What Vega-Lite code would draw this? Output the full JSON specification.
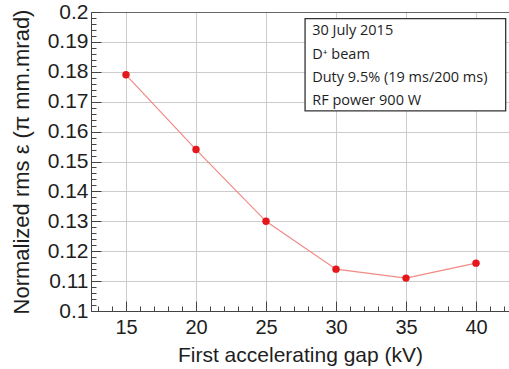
{
  "$schema": "https://vega.github.io/schema/vega-lite/v6.json",
  "width": 418,
  "height": 299,
  "autosize": {"type": "none"},
  "padding": {"left": 91, "top": 12, "right": 0, "bottom": 58},
  "background": "white",
  "config": {
    "view": {"stroke": null},
    "axis": {"labelFont": "Liberation Sans", "titleFont": "Liberation Sans", "labelColor": "#1e1e1e", "titleColor": "#1e1e1e", "titleFontWeight": "normal"}
  },
  "datasets": {
    "pts": [
      {"gap": 15, "emit": 0.179},
      {"gap": 20, "emit": 0.154},
      {"gap": 25, "emit": 0.130},
      {"gap": 30, "emit": 0.114},
      {"gap": 35, "emit": 0.111},
      {"gap": 40, "emit": 0.116}
    ],
    "box": [{"x1": 27.79, "x2": 42.12, "y1": 0.1669, "y2": 0.1978}],
    "notes": [
      {"tx": 28.3, "ty": 0.1935, "label": "30 July 2015"},
      {"tx": 28.3, "ty": 0.1857, "label": "D⁺ beam"},
      {"tx": 28.3, "ty": 0.1780, "label": "Duty 9.5% (19 ms/200 ms)"},
      {"tx": 28.3, "ty": 0.1703, "label": "RF power 900 W"}
    ]
  },
  "resolve": {"axis": {"x": "independent", "y": "independent"}},
  "layer": [
    {
      "data": {"name": "pts"},
      "mark": {"type": "line", "color": "#f08a86", "strokeWidth": 1.2},
      "encoding": {
        "x": {"field": "gap", "type": "quantitative", "scale": {"domain": [12.5, 42.357], "nice": false, "zero": false},
          "axis": {"orient": "bottom", "title": "First accelerating gap (kV)", "values": [15, 20, 25, 30, 35, 40], "labelFontSize": 20, "titleFontSize": 21, "tickSize": -10, "tickColor": "#444444", "domainColor": "#444444", "grid": true, "gridColor": "#cccccc", "labelPadding": 16, "titlePadding": 7}},
        "y": {"field": "emit", "type": "quantitative", "scale": {"domain": [0.1, 0.2], "nice": false, "zero": false},
          "axis": {"orient": "left", "title": "Normalized rms ε (π mm.mrad)", "values": [0.1, 0.11, 0.12, 0.13, 0.14, 0.15, 0.16, 0.17, 0.18, 0.19, 0.2], "labelFontSize": 21, "titleFontSize": 22, "tickSize": -10, "tickColor": "#444444", "domainColor": "#444444", "grid": true, "gridColor": "#cccccc", "labelPadding": 13, "titlePadding": 14, "labelExpr": "datum.value == 0.1 ? '0.1' : datum.value == 0.2 ? '0.2' : format(datum.value, '.2f')"}}
      }
    },
    {
      "data": {"name": "pts"},
      "mark": {"type": "point", "filled": true, "color": "#e5161c", "size": 55, "opacity": 1},
      "encoding": {
        "x": {"field": "gap", "type": "quantitative", "axis": {"orient": "bottom", "values": [13, 14, 16, 17, 18, 19, 21, 22, 23, 24, 26, 27, 28, 29, 31, 32, 33, 34, 36, 37, 38, 39, 41, 42], "labels": false, "title": null, "grid": false, "domain": false, "tickSize": -5, "tickColor": "#444444"}},
        "y": {"field": "emit", "type": "quantitative", "axis": {"orient": "left", "values": [0.102, 0.104, 0.106, 0.108, 0.112, 0.114, 0.116, 0.118, 0.122, 0.124, 0.126, 0.128, 0.132, 0.134, 0.136, 0.138, 0.142, 0.144, 0.146, 0.148, 0.152, 0.154, 0.156, 0.158, 0.162, 0.164, 0.166, 0.168, 0.172, 0.174, 0.176, 0.178, 0.182, 0.184, 0.186, 0.188, 0.192, 0.194, 0.196, 0.198], "labels": false, "title": null, "grid": false, "domain": false, "tickSize": -5, "tickColor": "#444444"}}
      }
    },
    {
      "data": {"name": "box"},
      "mark": {"type": "rect", "fill": "white", "stroke": "#333333", "strokeWidth": 1.3},
      "encoding": {
        "x": {"field": "x1", "type": "quantitative", "axis": {"orient": "top", "domain": true, "domainColor": "#666666", "ticks": false, "labels": false, "title": null, "grid": false}},
        "x2": {"field": "x2"},
        "y": {"field": "y1", "type": "quantitative", "axis": null},
        "y2": {"field": "y2"}
      }
    },
    {
      "data": {"name": "notes"},
      "mark": {"type": "text", "align": "left", "baseline": "middle", "font": "Open Sans", "fontSize": 14.5, "color": "#1e1e1e"},
      "encoding": {
        "x": {"field": "tx", "type": "quantitative", "axis": null},
        "y": {"field": "ty", "type": "quantitative", "axis": null},
        "text": {"field": "label"}
      }
    }
  ]
}
